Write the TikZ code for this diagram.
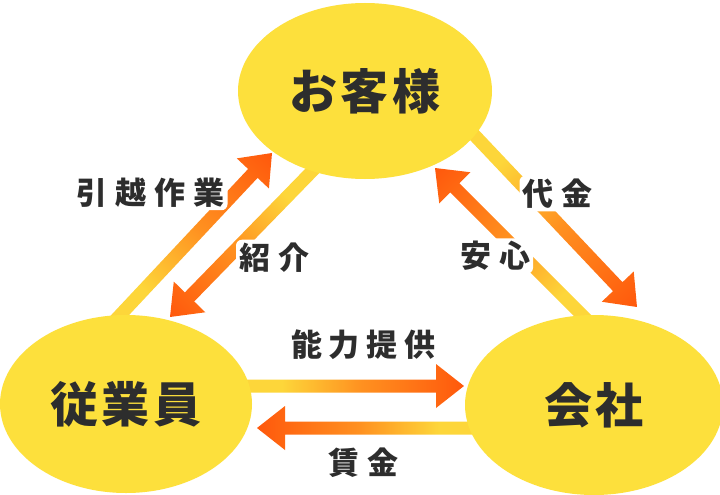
\documentclass[tikz,border=0pt]{standalone}
\usepackage{fontspec}
\setmainfont{Noto Sans CJK JP}
\usetikzlibrary{shapes.geometric,calc}
\definecolor{EllY}{RGB}{253,224,60}
\definecolor{ArY}{RGB}{253,214,58}
\definecolor{ArO}{RGB}{255,145,32}
\definecolor{ArR}{RGB}{255,88,12}
\definecolor{Txt}{RGB}{45,45,45}
\pgfdeclarehorizontalshading{arrowshade}{100bp}{color(0bp)=(ArY); color(25bp)=(ArY); color(36bp)=(ArY); color(53bp)=(ArO); color(75bp)=(ArR); color(100bp)=(ArR)}
\pgfdeclarelayer{bg}
\pgfsetlayers{bg,main}
\newcommand\gradarrow[2]{%
  \path let \p1=(#1), \p2=(#2) in \pgfextra{%
    \pgfmathsetmacro\gaang{atan2(\y2-\y1,\x2-\x1)}%
    \pgfmathsetmacro\galen{veclen(\x2-\x1,\y2-\y1)}%
    \xdef\gAng{\gaang}\xdef\gLen{\galen}};
  \begin{scope}[transform canvas={shift={(#1)},rotate=\gAng}]
    \shade[shading=arrowshade] (0pt,-6.5pt) -- ({\gLen pt-28pt},-6.5pt) -- ({\gLen pt-28pt},-22pt)
      -- (\gLen pt,0pt) -- ({\gLen pt-28pt},22pt) -- ({\gLen pt-28pt},6.5pt) -- (0pt,6.5pt) -- cycle;
  \end{scope}}
\tikzset{
  blob/.style={ellipse, fill=EllY, inner sep=0pt, text=Txt,
    font=\fontsize{48}{52}\selectfont\bfseries},
  lbl/.style={inner sep=3pt, fill=white, rounded corners=6pt, text=Txt,
    font=\fontsize{31}{34}\selectfont\bfseries},
}
\begin{document}
\begin{tikzpicture}[x=1pt,y=-1pt]
\useasboundingbox (0,0) rectangle (720,495);
% ellipses
\node[blob, minimum width=254pt, minimum height=176pt] (kyaku) at (365,91) {お\kern4pt客\kern4pt様};
\node[blob, minimum width=252pt, minimum height=178pt] (staff) at (126,404) {従\kern4pt業\kern4pt員};
\node[blob, minimum width=258pt, minimum height=180pt] (kaisha) at (594,405) {会\kern4pt社};
% arrow end points
\coordinate (a1s) at (108,328); \coordinate (a1t) at (272,153);
\coordinate (a2s) at (320,163); \coordinate (a2t) at (170,317);
\coordinate (a3s) at (462,122); \coordinate (a3t) at (637,307);
\coordinate (a4s) at (598,331); \coordinate (a4t) at (435,168);
\coordinate (a5s) at (230,386); \coordinate (a5t) at (464,386);
\coordinate (a6s) at (490,428); \coordinate (a6t) at (257,428);
\begin{pgfonlayer}{bg}
\fill[white] (0,0) rectangle (720,495);
\gradarrow{a1s}{a1t}
\gradarrow{a2s}{a2t}
\gradarrow{a3s}{a3t}
\gradarrow{a4s}{a4t}
\gradarrow{a5s}{a5t}
\gradarrow{a6s}{a6t}
\end{pgfonlayer}
% labels
\node[lbl] (l1) at (150.5,192.5) {引\kern8pt越\kern8pt作\kern8pt業};
\node[lbl] (l2) at (274,257.5) {紹\kern8pt介};
\node[lbl] (l3) at (557.5,193.5) {代\kern8pt金};
\node[lbl] (l4) at (495,256) {安\kern8pt心};
\node[lbl] (l5) at (363.5,345) {能\kern7pt力\kern7pt提\kern7pt供};
\node[lbl] (l6) at (363,463) {賃\kern8pt金};
\end{tikzpicture}
\end{document}
